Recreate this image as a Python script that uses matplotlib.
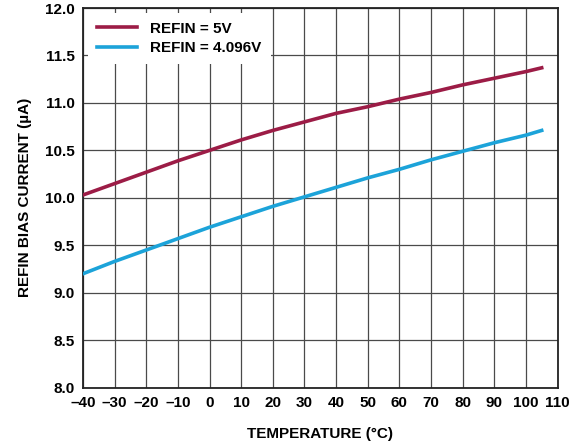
import matplotlib.pyplot as plt

plt.rcParams['font.family'] = ['Liberation Sans', 'DejaVu Sans']
plt.rcParams['font.weight'] = 'bold'

temp = [-40, -30, -20, -10, 0, 10, 20, 30, 40, 50, 60, 70, 80, 90, 100, 105]
refin_5v = [10.03, 10.15, 10.27, 10.39, 10.50, 10.61, 10.71, 10.80, 10.89,
            10.96, 11.04, 11.11, 11.19, 11.26, 11.33, 11.37]
refin_4096v = [9.20, 9.33, 9.45, 9.57, 9.69, 9.80, 9.91, 10.01, 10.11,
               10.21, 10.30, 10.40, 10.49, 10.58, 10.66, 10.71]

xticks = list(range(-40, 111, 10))
yticks = [8.0, 8.5, 9.0, 9.5, 10.0, 10.5, 11.0, 11.5, 12.0]

fig = plt.figure(figsize=(5.85, 4.46), dpi=100)
ax = fig.add_axes([0.142, 0.131, 0.811, 0.851])

ax.plot(temp, refin_5v, color='#9c1c46', lw=2.6, label='REFIN = 5V', zorder=3)
ax.plot(temp, refin_4096v, color='#1ca3d9', lw=2.6, label='REFIN = 4.096V', zorder=3)

ax.set_xlim(-40, 110)
ax.set_ylim(8.0, 12.0)
ax.set_xticks(xticks)
ax.set_xticklabels([str(t).replace('-', '\u2013') for t in xticks])
ax.set_yticks(yticks)
ax.set_yticklabels(['%.1f' % v for v in yticks])
ax.tick_params(length=0, labelsize=11, pad=6)
ax.grid(True, color='#4a4a4a', lw=0.9)
ax.set_axisbelow(True)
for s in ax.spines.values():
    s.set_linewidth(1.3)
    s.set_color('#222222')

ax.set_xlabel('TEMPERATURE (°C)', fontsize=11, fontweight='bold', labelpad=12)
ax.set_ylabel('REFIN BIAS CURRENT (µA)', fontsize=11, fontweight='bold', labelpad=9)

leg = ax.legend(loc='upper left', frameon=True, fancybox=False, fontsize=11,
                handlelength=2.6, borderaxespad=0.3, edgecolor='white',
                framealpha=1, borderpad=0.6, labelspacing=0.35, handletextpad=0.9)
leg.get_frame().set_linewidth(0)

fig.savefig('out.png', dpi=100)
